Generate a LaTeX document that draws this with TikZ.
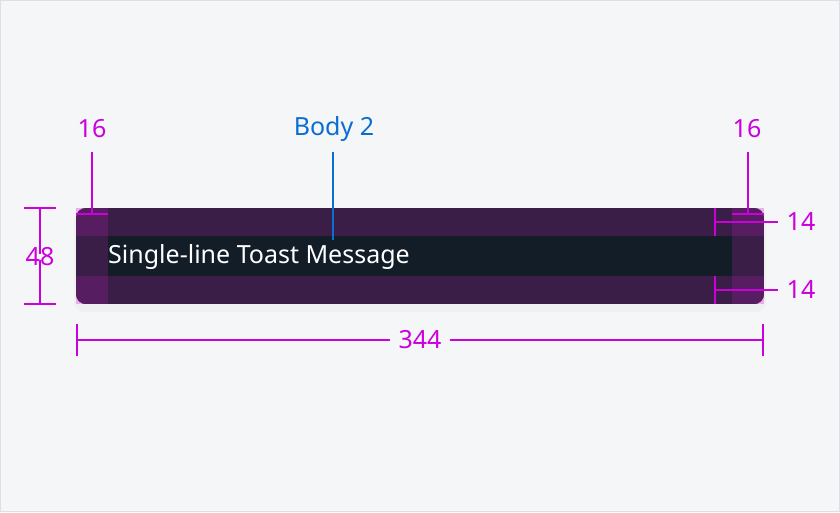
\documentclass[tikz,border=0pt]{standalone}
\usepackage{fontspec}
\setmainfont{Noto Sans}
\usepackage{tikz}
\usetikzlibrary{positioning}
\definecolor{bg}{HTML}{F5F6F8}
\definecolor{frame}{HTML}{DCDFE3}
\definecolor{toast}{HTML}{121D28}
\definecolor{pad}{HTML}{3A1E48}
\definecolor{corner}{HTML}{571D61}
\definecolor{cornerpink}{HTML}{E9ADE9}
\definecolor{dim}{HTML}{CC00DD}
\definecolor{body}{HTML}{0A6ED1}

\begin{document}
\begin{tikzpicture}[x=1pt,y=-1pt,dimline/.style={draw=dim,line width=1.6pt},label/.style={font=\fontsize{25}{28}\selectfont,inner sep=0pt}]

    % Background
    \fill[bg] (0,0) rectangle (840,512);
    \draw[frame,line width=1pt] (0.5,0.5) rectangle (839.5,511.5);

    % Shadow and corner squares
    \fill[black!6,rounded corners=10pt] (74,212) rectangle (766,312);
    \fill[cornerpink] (76,208) rectangle (108,236);
    \fill[cornerpink] (76,276) rectangle (108,304);
    \fill[cornerpink] (732,208) rectangle (764,236);
    \fill[cornerpink] (732,276) rectangle (764,304);

    % The toast
    \begin{scope}
    \clip[rounded corners=10pt] (76,208) rectangle (764,304);
    \fill[pad] (76,208) rectangle (764,304);
    \fill[toast] (108,236) rectangle (732,276);
    \fill[corner] (76,208) rectangle (108,236);
    \fill[corner] (76,276) rectangle (108,304);
    \fill[corner] (732,208) rectangle (764,236);
    \fill[corner] (732,276) rectangle (764,304);
    \end{scope}
    \node[label,anchor=west,text=white] (msg) at (108,257) {Single-line Toast Message};

    % Labels
    \node[label,text=dim] (padL) at (92,129) {16};
    \node[label,text=dim] (padR) at (747,129) {16};
    \node[label,text=body] (font) at (334,129) {Body 2};
    \node[label,text=dim] (height) at (40,257) {48};
    \node[label,text=dim] (topgap) at (801,222) {14};
    \node[label,text=dim] (botgap) at (801,290) {14};
    \node[label,text=dim] (width) at (420,340) {344};

    % Dimension lines
    \draw[dimline] (92,152) -- (92,214);
    \draw[dimline] (76,214) -- (108,214);
    \draw[dimline] (748,152) -- (748,214);
    \draw[dimline] (732,214) -- (764,214);
    \draw[draw=body,line width=1.6pt] (333,152) -- (333,240);

    \draw[dimline] (24,208) -- (56,208);
    \draw[dimline] (24,304) -- (56,304);
    \draw[dimline] (40,208) -- ([yshift=-6pt]height.north);
    \draw[dimline] (40,304) -- ([yshift=6pt]height.south);

    \draw[dimline] (715,208) -- (715,236);
    \draw[dimline] (715,222) -- (778,222);
    \draw[dimline] (715,276) -- (715,304);
    \draw[dimline] (715,290) -- (778,290);

    \draw[dimline] (77,324) -- (77,356);
    \draw[dimline] (763,324) -- (763,356);
    \draw[dimline] (77,340) -- ([xshift=-8pt]width.west);
    \draw[dimline] (763,340) -- ([xshift=8pt]width.east);
\end{tikzpicture}
\end{document}
